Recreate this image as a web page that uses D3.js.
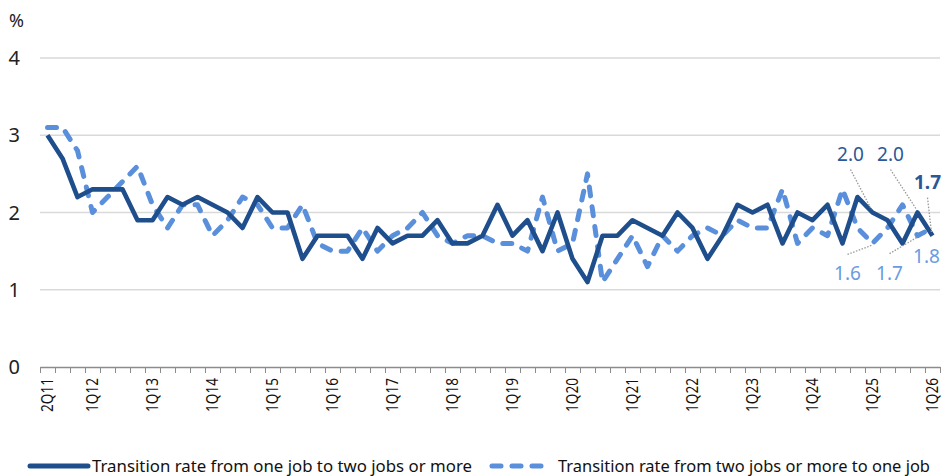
<!DOCTYPE html>
<html>
<head>
<meta charset="utf-8">
<script src="https://cdn.jsdelivr.net/npm/d3@7"></script>
<style>
  body { margin: 0; background: #fff; }
  svg text { font-family: "Noto Sans", "Liberation Sans", sans-serif; }
</style>
</head>
<body>
<svg id="chart" width="941" height="476"></svg>
<script>
// quarters 2Q11 .. 1Q26
var quarters = [];
for (var yr = 11; yr <= 26; yr++) {
    for (var q = 1; q <= 4; q++) {
        if ((yr === 11 && q < 2) || (yr === 26 && q > 1)) continue;
        quarters.push(q + 'Q' + yr);
    }
}

var tickLabels = ['2Q11', '1Q12', '1Q13', '1Q14', '1Q15', '1Q16', '1Q17', '1Q18',
    '1Q19', '1Q20', '1Q21', '1Q22', '1Q23', '1Q24', '1Q25', '1Q26'];

var yTicks = [0, 1, 2, 3, 4];

// one job -> two jobs or more
var oneToTwo = [
    3.0, 2.7, 2.2, 2.3, 2.3, 2.3, 1.9, 1.9, 2.2, 2.1,
    2.2, 2.1, 2.0, 1.8, 2.2, 2.0, 2.0, 1.4, 1.7, 1.7,
    1.7, 1.4, 1.8, 1.6, 1.7, 1.7, 1.9, 1.6, 1.6, 1.7,
    2.1, 1.7, 1.9, 1.5, 2.0, 1.4, 1.1, 1.7, 1.7, 1.9,
    1.8, 1.7, 2.0, 1.8, 1.4, 1.7, 2.1, 2.0, 2.1, 1.6,
    2.0, 1.9, 2.1, 1.6, 2.2, 2.0, 1.9, 1.6, 2.0, 1.7
];

// two jobs or more -> one job
var twoToOne = [
    3.1, 3.1, 2.8, 2.0, 2.2, 2.4, 2.6, 2.1, 1.8, 2.1,
    2.1, 1.7, 1.9, 2.2, 2.1, 1.8, 1.8, 2.1, 1.6, 1.5,
    1.5, 1.8, 1.5, 1.7, 1.8, 2.0, 1.7, 1.6, 1.7, 1.7,
    1.6, 1.6, 1.5, 2.2, 1.5, 1.6, 2.5, 1.1, 1.4, 1.7,
    1.3, 1.7, 1.5, 1.7, 1.8, 1.7, 1.9, 1.8, 1.8, 2.3,
    1.6, 1.8, 1.7, 2.3, 1.8, 1.6, 1.8, 2.1, 1.7, 1.8
];

var seriesNames = ['Transition rate from one job to two jobs or more',
    'Transition rate from two jobs or more to one job'];

// labelled points: quarter, value
var solidLabels = [['1Q25', 2.0], ['4Q25', 2.0], ['1Q26', 1.7]];
var dashedLabels = [['1Q25', 1.6], ['4Q25', 1.7], ['1Q26', 1.8]];

var darkBlue = '#1f4e8c',
    lightBlue = '#5a8fdb';

var svg = d3.select('#chart');

var margin = {top: 58, right: 1, bottom: 109, left: 40},
    width = +svg.attr('width') - margin.left - margin.right,
    height = +svg.attr('height') - margin.top - margin.bottom;

var x = d3.scaleBand()
    .domain(quarters)
    .range([margin.left, margin.left + width])
    .padding(0);

var xc = function(qq) { return x(qq) + x.bandwidth() / 2; };

var y = d3.scaleLinear()
    .domain([0, 4])
    .range([margin.top + height, margin.top]);

// gridlines
svg.append('g')
    .selectAll('line')
    .data(yTicks.filter(function(d) { return d > 0; }))
  .enter().append('line')
    .attr('x1', margin.left)
    .attr('x2', margin.left + width)
    .attr('y1', function(d) { return y(d); })
    .attr('y2', function(d) { return y(d); })
    .attr('stroke', '#d9d9d9')
    .attr('stroke-width', 1.3);

// y labels
svg.append('g')
    .selectAll('text')
    .data(yTicks)
  .enter().append('text')
    .attr('x', 20)
    .attr('y', function(d) { return y(d); })
    .attr('dy', '0.35em')
    .attr('text-anchor', 'end')
    .attr('font-size', 20)
    .attr('fill', '#222')
    .text(function(d) { return d; });

svg.append('text')
    .attr('x', 9)
    .attr('y', 27)
    .attr('font-size', 18)
    .attr('fill', '#222')
    .text('%');

// x axis: ticks at category boundaries
var xEdges = d3.scaleLinear()
    .domain([0, quarters.length])
    .range([margin.left, margin.left + width]);

var xAxis = svg.append('g')
    .attr('transform', 'translate(0,' + y(0) + ')')
    .call(d3.axisBottom(xEdges)
        .tickValues(d3.range(quarters.length + 1))
        .tickSize(6)
        .tickSizeOuter(0)
        .tickFormat(''));
xAxis.select('.domain').attr('stroke', '#8c8c8c').attr('stroke-width', 1.3);
xAxis.selectAll('.tick line').attr('stroke', '#8c8c8c');

svg.append('g')
    .selectAll('text')
    .data(tickLabels)
  .enter().append('text')
    .attr('transform', function(d) {
        return 'translate(' + (xc(d) + 5) + ',' + (y(0) + 11) + ') rotate(-90)';
    })
    .attr('text-anchor', 'end')
    .attr('font-size', 17)
    .attr('textLength', 34)
    .attr('lengthAdjust', 'spacingAndGlyphs')
    .attr('fill', '#111')
    .text(function(d) { return d; });

// lines
var line = d3.line()
    .x(function(d, i) { return xc(quarters[i]); })
    .y(function(d) { return y(d); });

svg.append('path')
    .datum(twoToOne)
    .attr('d', line)
    .attr('fill', 'none')
    .attr('stroke', lightBlue)
    .attr('stroke-width', 5)
    .attr('stroke-linecap', 'round')
    .attr('stroke-linejoin', 'round')
    .attr('stroke-dasharray', '9,11');

svg.append('path')
    .datum(oneToTwo)
    .attr('d', line)
    .attr('fill', 'none')
    .attr('stroke', darkBlue)
    .attr('stroke-width', 4.6)
    .attr('stroke-linejoin', 'round');

// value labels with dotted leaders (offsets from the point to the label baseline)
var solidOffsets = [[-22, -52], [-27, -52], [-5, -47]];
var dashedOffsets = [[-25, 37], [-28, 44], [-6, 35]];

function addLabels(list, offsets, color, bold, below) {
    list.forEach(function(d, i) {
        var px = xc(d[0]), py = y(d[1]);
        var lx = px + offsets[i][0], ly = py + offsets[i][1];
        var last = i === list.length - 1;
        if (!(below && last)) {
            svg.append('line')
                .attr('x1', lx).attr('y1', below ? ly - 26 : ly + 9)
                .attr('x2', px - 1).attr('y2', py + (below ? 2 : -3))
                .attr('stroke', '#9a9a9a')
                .attr('stroke-width', 1.3)
                .attr('stroke-dasharray', '1.5,1.5');
        }
        svg.append('text')
            .attr('x', lx)
            .attr('y', ly)
            .attr('text-anchor', 'middle')
            .attr('font-size', 19)
            .attr('font-weight', bold && last ? 'bold' : 'normal')
            .attr('fill', color)
            .text(d[1].toFixed(1));
    });
}
addLabels(solidLabels, solidOffsets, '#2b5797', true, false);
addLabels(dashedLabels, dashedOffsets, '#6a9be2', false, true);

// legend
var legend = svg.append('g');
legend.append('line')
    .attr('x1', 30).attr('x2', 88)
    .attr('y1', 466).attr('y2', 466)
    .attr('stroke', darkBlue)
    .attr('stroke-width', 5)
    .attr('stroke-linecap', 'round');
legend.append('text')
    .attr('x', 92).attr('y', 472)
    .attr('font-size', 17)
    .attr('textLength', 380)
    .attr('lengthAdjust', 'spacingAndGlyphs')
    .attr('fill', '#111')
    .text(seriesNames[0]);
legend.append('line')
    .attr('x1', 492).attr('x2', 548)
    .attr('y1', 466).attr('y2', 466)
    .attr('stroke', lightBlue)
    .attr('stroke-width', 5)
    .attr('stroke-linecap', 'round')
    .attr('stroke-dasharray', '9,11');
legend.append('text')
    .attr('x', 558).attr('y', 472)
    .attr('font-size', 17)
    .attr('textLength', 372)
    .attr('lengthAdjust', 'spacingAndGlyphs')
    .attr('fill', '#111')
    .text(seriesNames[1]);
</script>
</body>
</html>
